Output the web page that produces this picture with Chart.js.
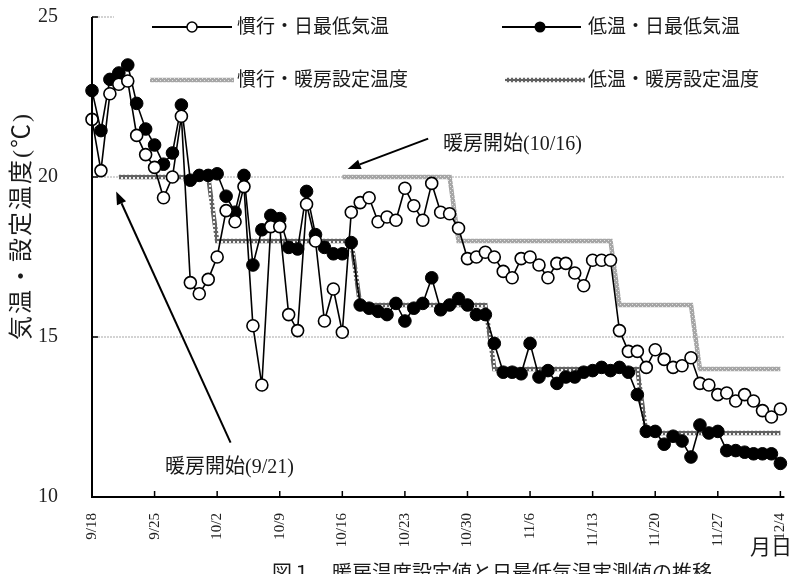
<!DOCTYPE html>
<html>
<head>
<meta charset="utf-8">
<script src="https://cdn.jsdelivr.net/npm/chart.js@4.4.0/dist/chart.umd.min.js"></script>
<style>
html, body { margin: 0; padding: 0; background: #fff; }
#wrap { position: relative; width: 792px; height: 574px; overflow: hidden; }
#c { position: absolute; left: 0; top: 0; }
.t { position: absolute; font-family: "Liberation Serif", "Noto Sans CJK JP", serif; color: #1a1a1a; white-space: nowrap; line-height: 1; }
</style>
</head>
<body>
<div id="wrap">
  <canvas id="c" width="792" height="574"></canvas>
  <div class="t" style="left:237px;top:17px;font-size:19px;">慣行・日最低気温</div>
  <div class="t" style="left:588px;top:17px;font-size:19px;">低温・日最低気温</div>
  <div class="t" style="left:237px;top:70px;font-size:19px;">慣行・暖房設定温度</div>
  <div class="t" style="left:588px;top:70px;font-size:19px;">低温・暖房設定温度</div>
  <div class="t" style="left:443px;top:133px;font-size:20px;">暖房開始(10/16)</div>
  <div class="t" style="left:165px;top:456px;font-size:20px;">暖房開始(9/21)</div>
  <div class="t" style="left:21px;top:226px;font-size:24px;letter-spacing:2px;transform:translate(-50%,-50%) rotate(-90deg);">気温・設定温度(℃)</div>
  <div class="t" style="left:750px;top:537px;font-size:21px;">月日</div>
  <div class="t" style="left:272px;top:563px;font-size:20px;">図１　暖房温度設定値と日最低気温実測値の推移</div>
</div>
<script>
// 9/18 - 12/4, one value per day (index 0 = 9/18)
const weekLabels = ["9/18", "9/25", "10/2", "10/9", "10/16", "10/23", "10/30", "11/6", "11/13", "11/20", "11/27", "12/4"];

// 慣行・日最低気温
const kankoMin = [
  21.8, 20.2, 22.6, 22.9, 23.0, 21.3, 20.7, 20.3, 19.35, 20.0,
  21.9, 16.7, 16.35, 16.8, 17.5, 18.95, 18.6, 19.7, 15.35, 13.5,
  18.45, 18.45, 15.7, 15.2, 19.15, 18.0, 15.5, 16.5, 15.15, 18.9,
  19.2, 19.35, 18.6, 18.75, 18.65, 19.65, 19.1, 18.65, 19.8, 18.9,
  18.85, 18.4, 17.45, 17.5, 17.65, 17.5, 17.05, 16.85, 17.45, 17.5,
  17.25, 16.85, 17.3, 17.3, 17.0, 16.6, 17.4, 17.4, 17.4, 15.2,
  14.55, 14.55, 14.05, 14.6, 14.3, 14.05, 14.1, 14.35, 13.55, 13.5,
  13.2, 13.25, 13.0, 13.2, 13.0, 12.7, 12.5, 12.75
];

// 低温・日最低気温
const teionMin = [
  22.7, 21.45, 23.05, 23.25, 23.5, 22.3, 21.5, 21.0, 20.4, 20.75,
  22.25, 19.9, 20.05, 20.05, 20.1, 19.4, 18.9, 20.05, 17.25, 18.35,
  18.8, 18.7, 17.8, 17.75, 19.55, 18.2, 17.8, 17.6, 17.6, 17.95,
  16.0, 15.9, 15.8, 15.7, 16.05, 15.5, 15.9, 16.05, 16.85, 15.85,
  16.0, 16.2, 16.0, 15.7, 15.7, 14.8, 13.9, 13.9, 13.85, 14.8,
  13.75, 13.95, 13.55, 13.75, 13.75, 13.9, 13.95, 14.05, 13.95, 14.05,
  13.9, 13.2, 12.05, 12.05, 11.65, 11.9, 11.75, 11.25, 12.25, 12.0,
  12.05, 11.45, 11.45, 11.4, 11.35, 11.35, 11.35, 11.05
];

// 暖房設定温度 (null = 暖房なし)
const kankoSet = [
  null, null, null, null, null, null, null, null, null, null,
  null, null, null, null, null, null, null, null, null, null,
  null, null, null, null, null, null, null, null, 20, 20,
  20, 20, 20, 20, 20, 20, 20, 20, 20, 20,
  20, 18, 18, 18, 18, 18, 18, 18, 18, 18,
  18, 18, 18, 18, 18, 18, 18, 18, 18, 16,
  16, 16, 16, 16, 16, 16, 16, 16, 14, 14,
  14, 14, 14, 14, 14, 14, 14, 14
];
const teionSet = [
  null, null, null, 20, 20, 20, 20, 20, 20, 20,
  20, 20, 20, 20, 18, 18, 18, 18, 18, 18,
  18, 18, 18, 18, 18, 18, 18, 18, 18, 18,
  16, 16, 16, 16, 16, 16, 16, 16, 16, 16,
  16, 16, 16, 16, 16, 14, 14, 14, 14, 14,
  14, 14, 14, 14, 14, 14, 14, 14, 14, 14,
  14, 14, 12, 12, 12, 12, 12, 12, 12, 12,
  12, 12, 12, 12, 12, 12, 12, 12
];

const gridValues = [15, 20];

function makePattern(base, dot, hollow) {
  const p = document.createElement("canvas");
  p.width = 4; p.height = 4;
  const g = p.getContext("2d");
  g.fillStyle = base;
  g.fillRect(0, 0, 4, 4);
  g.fillStyle = dot;
  if (hollow) {
    g.fillRect(1, 1, 2, 2);
  } else {
    g.fillRect(0, 0, 1, 1);
    g.fillRect(2, 2, 1, 1);
  }
  return document.getElementById("c").getContext("2d").createPattern(p, "repeat");
}
const patKanko = makePattern("#a6a6a6", "#e4e4e4", false);
const patTeion = makePattern("#626262", "#f0f0f0", true);

const toPts = arr => arr.map((v, i) => ({ x: i, y: v }));

// gridlines, axes, arrows and legend samples
const decor = {
  id: "decor",
  beforeDatasetsDraw(chart) {
    const ctx = chart.ctx, a = chart.chartArea, ys = chart.scales.y;
    ctx.save();
    ctx.strokeStyle = "#a8a8a8";
    ctx.lineWidth = 1.2;
    ctx.setLineDash([2, 1]);
    gridValues.forEach(v => {
      const y = ys.getPixelForValue(v);
      ctx.beginPath(); ctx.moveTo(a.left, y); ctx.lineTo(a.right, y); ctx.stroke();
    });
    const y25 = ys.getPixelForValue(25);
    ctx.beginPath(); ctx.moveTo(a.left, y25); ctx.lineTo(a.left + 22, y25); ctx.stroke();
    ctx.restore();
  },
  afterDraw(chart) {
    const ctx = chart.ctx, a = chart.chartArea;
    const xs = chart.scales.x, ys = chart.scales.y;
    const px = v => xs.getPixelForValue(v), py = v => ys.getPixelForValue(v);
    ctx.save();
    // axes
    ctx.strokeStyle = "#000";
    ctx.lineWidth = 2;
    ctx.beginPath();
    ctx.moveTo(a.left, a.top); ctx.lineTo(a.left, a.bottom); ctx.lineTo(a.right, a.bottom);
    ctx.stroke();
    ctx.lineWidth = 1.5;
    [10, 15, 20, 25].forEach(v => {
      ctx.beginPath(); ctx.moveTo(a.left, py(v)); ctx.lineTo(a.left + 6, py(v)); ctx.stroke();
    });
    weekLabels.forEach((l, k) => {
      ctx.beginPath(); ctx.moveTo(px(k * 7), a.bottom); ctx.lineTo(px(k * 7), a.bottom - 6); ctx.stroke();
    });

    // arrows
    function arrow(x1, y1, x2, y2) {
      const ang = Math.atan2(y2 - y1, x2 - x1);
      const hl = 13, hw = 5;
      const bx = x2 - hl * Math.cos(ang), by = y2 - hl * Math.sin(ang);
      ctx.lineWidth = 2;
      ctx.beginPath(); ctx.moveTo(x1, y1); ctx.lineTo(bx, by); ctx.stroke();
      ctx.beginPath();
      ctx.moveTo(x2, y2);
      ctx.lineTo(bx + hw * Math.sin(ang), by - hw * Math.cos(ang));
      ctx.lineTo(bx - hw * Math.sin(ang), by + hw * Math.cos(ang));
      ctx.closePath(); ctx.fillStyle = "#000"; ctx.fill();
    }
    arrow(px(15.5), py(11.7), px(2.7), py(19.55));
    arrow(px(37.6), py(21.2), px(28.6), py(20.25));

    // legend samples
    const r1 = 27, r2 = 80;
    ctx.lineWidth = 2;
    ctx.beginPath(); ctx.moveTo(152, r1); ctx.lineTo(232, r1); ctx.stroke();
    ctx.beginPath(); ctx.moveTo(502, r1); ctx.lineTo(581, r1); ctx.stroke();
    ctx.beginPath(); ctx.arc(192, r1, 5, 0, Math.PI * 2);
    ctx.fillStyle = "#fff"; ctx.fill(); ctx.lineWidth = 1.5; ctx.stroke();
    ctx.beginPath(); ctx.arc(540, r1, 5.5, 0, Math.PI * 2);
    ctx.fillStyle = "#000"; ctx.fill();
    ctx.lineWidth = 4.5;
    ctx.strokeStyle = patKanko;
    ctx.beginPath(); ctx.moveTo(150, r2); ctx.lineTo(234, r2); ctx.stroke();
    ctx.strokeStyle = patTeion;
    ctx.beginPath(); ctx.moveTo(505, r2); ctx.lineTo(585, r2); ctx.stroke();
    ctx.restore();
  }
};

new Chart(document.getElementById("c"), {
  type: "line",
  data: {
    datasets: [
      {
        label: "慣行・日最低気温",
        data: toPts(kankoMin),
        borderColor: "#000",
        borderWidth: 1.6,
        pointRadius: 6,
        pointBorderWidth: 1.6,
        pointBackgroundColor: "#fff",
        pointBorderColor: "#000",
        order: 1,
        clip: false
      },
      {
        label: "低温・日最低気温",
        data: toPts(teionMin),
        borderColor: "#000",
        borderWidth: 1.6,
        pointRadius: 6.3,
        pointBorderWidth: 1,
        pointBackgroundColor: "#000",
        pointBorderColor: "#000",
        order: 2,
        clip: false
      },
      {
        label: "慣行・暖房設定温度",
        data: toPts(kankoSet),
        borderColor: patKanko,
        borderWidth: 4.5,
        pointRadius: 0,
        spanGaps: false,
        order: 3
      },
      {
        label: "低温・暖房設定温度",
        data: toPts(teionSet),
        borderColor: patTeion,
        borderWidth: 4.5,
        pointRadius: 0,
        spanGaps: false,
        order: 4
      }
    ]
  },
  options: {
    responsive: false,
    animation: false,
    layout: { padding: { top: 17, right: 0, left: 0, bottom: 0 } },
    plugins: { legend: { display: false }, tooltip: { enabled: false } },
    elements: { line: { tension: 0 } },
    scales: {
      x: {
        type: "linear",
        min: 0,
        max: 77.45,
        afterFit: s => { s.height = 77; s.paddingLeft = 0; s.paddingRight = 0; },
        afterBuildTicks: s => { s.ticks = weekLabels.map((l, k) => ({ value: k * 7 })); },
        grid: { display: false },
        border: { display: false },
        ticks: {
          autoSkip: false,
          minRotation: 90,
          maxRotation: 90,
          padding: 8,
          color: "#222",
          font: { family: "Liberation Serif", size: 15 },
          callback: v => weekLabels[Math.round(v / 7)]
        }
      },
      y: {
        min: 10,
        max: 25,
        afterFit: s => { s.width = 92; s.paddingTop = 0; s.paddingBottom = 0; },
        grid: { display: false },
        border: { display: false },
        ticks: {
          stepSize: 5,
          padding: 26,
          color: "#222",
          font: { family: "Liberation Serif", size: 20 }
        }
      }
    }
  },
  plugins: [decor]
});
</script>
</body>
</html>
